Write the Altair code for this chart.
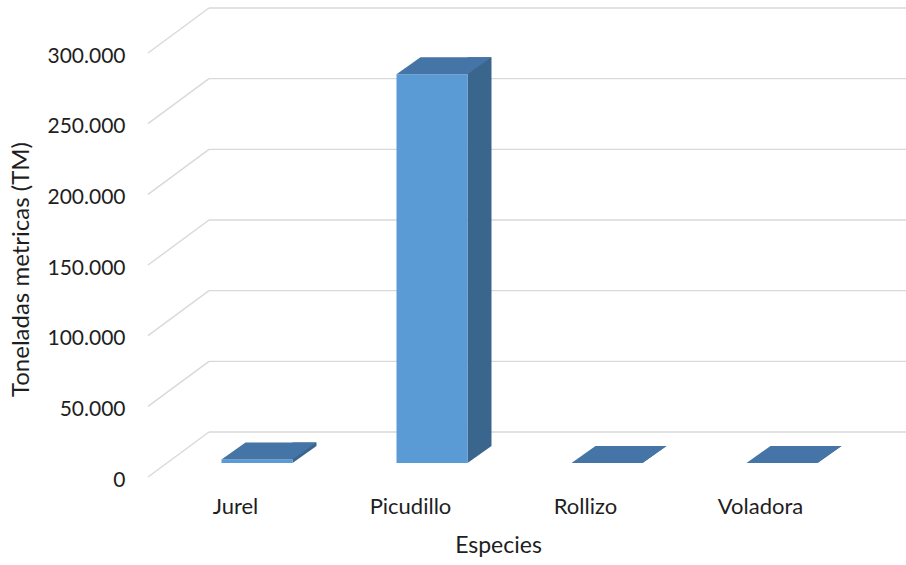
import altair as alt
import pandas as pd

especies = ["Jurel", "Picudillo", "Rollizo", "Voladora"]
toneladas = [2500, 275000, 0, 0]
y_ticks = [0, 50000, 100000, 150000, 200000, 250000, 300000]

FONT = "Lato"
TXT = "#1e1e1e"
GRID = "#d9d9d9"
FRONT = "#5b9bd5"
TOP = "#4575a6"
SIDE = "#3a658c"

# depth geometry (pixels)
DX, DY = 61, -45        # back wall offset
BW = 71                 # bar front width
B0X, B0Y = 21.5, -14    # bar front offset from band centre / floor
BDX, BDY = 24, -17      # bar depth

df = pd.DataFrame({"especie": especies, "valor": toneladas})
grid_df = pd.DataFrame({"t": y_ticks})

ytitle = "Toneladas metricas (TM)"
yscale = alt.Scale(domain=[0, 300000], nice=False)
xscale = alt.Scale(domain=especies, paddingInner=0, paddingOuter=0)
yaxis = alt.Axis(values=y_ticks, grid=False, domain=False, ticks=False,
                 labelExpr="replace(format(datum.value, ','), ',', '.')",
                 labelPadding=23, labelOffset=3, labelFontSize=21,
                 titlePadding=13, titleFontSize=24, titleY=216)
xaxis = alt.Axis(domain=False, ticks=False, labelAngle=0,
                 labelPadding=19, titlePadding=17)


def Y(field):
    return alt.Y(field, scale=yscale, title=ytitle, axis=yaxis)


def X():
    return alt.X("especie:N", scale=xscale, sort=especies, title="Especies", axis=xaxis)


back = alt.Chart(grid_df).mark_rule(
    color=GRID, strokeWidth=1.4, xOffset=DX, x2Offset=DX, yOffset=DY
).encode(
    y=Y("t:Q"),
    x=alt.value(0),
    x2=alt.value(700),
)

diag = alt.Chart(grid_df).mark_rule(
    color=GRID, strokeWidth=1.4, y2Offset=DY
).encode(
    y=Y("t:Q"),
    y2="t:Q",
    x=alt.value(0),
    x2=alt.value(DX),
)

side = alt.Chart(df).mark_bar(
    color=SIDE, width=BDX, xOffset=B0X + BW / 2 + BDX / 2,
    yOffset=B0Y + BDY, y2Offset=B0Y + BDY
).encode(
    x=X(),
    y=Y("valor:Q"),
    y2=alt.datum(0),
)

L = B0X - BW / 2
R = B0X + BW / 2
tri_path = f"M {R} {B0Y} L {R} {B0Y + BDY} L {R + BDX} {B0Y + BDY} Z"
tri = alt.Chart(df).transform_calculate(zero="0").mark_point(
    shape=tri_path, size=4, filled=True, fill=SIDE, opacity=1, strokeWidth=0
).encode(
    x=X(),
    y=Y("zero:Q"),
)

front = alt.Chart(df).mark_bar(
    color=FRONT, width=BW, xOffset=B0X, yOffset=B0Y, y2Offset=B0Y
).encode(
    x=X(),
    y=Y("valor:Q"),
    y2=alt.datum(0),
)

top_path = (f"M {L} {B0Y} L {R} {B0Y} L {R + BDX} {B0Y + BDY} "
            f"L {L + BDX} {B0Y + BDY} Z")
top = alt.Chart(df).mark_point(
    shape=top_path, size=4, filled=True, fill=TOP, opacity=1, strokeWidth=0
).encode(
    x=X(),
    y=Y("valor:Q"),
)

chart = alt.layer(back, diag, side, tri, front, top).properties(
    width=700, height=424,
    autosize=alt.AutoSizeParams(type="none"),
    padding={"left": 148, "top": 53, "right": 58, "bottom": 88},
).configure_view(stroke=None).configure_axis(
    labelFont=FONT, titleFont=FONT, labelFontSize=22, titleFontSize=23,
    labelColor=TXT, titleColor=TXT, titleFontWeight="normal",
)

chart.save("out.html", embed_options={"renderer": "svg", "actions": False})
